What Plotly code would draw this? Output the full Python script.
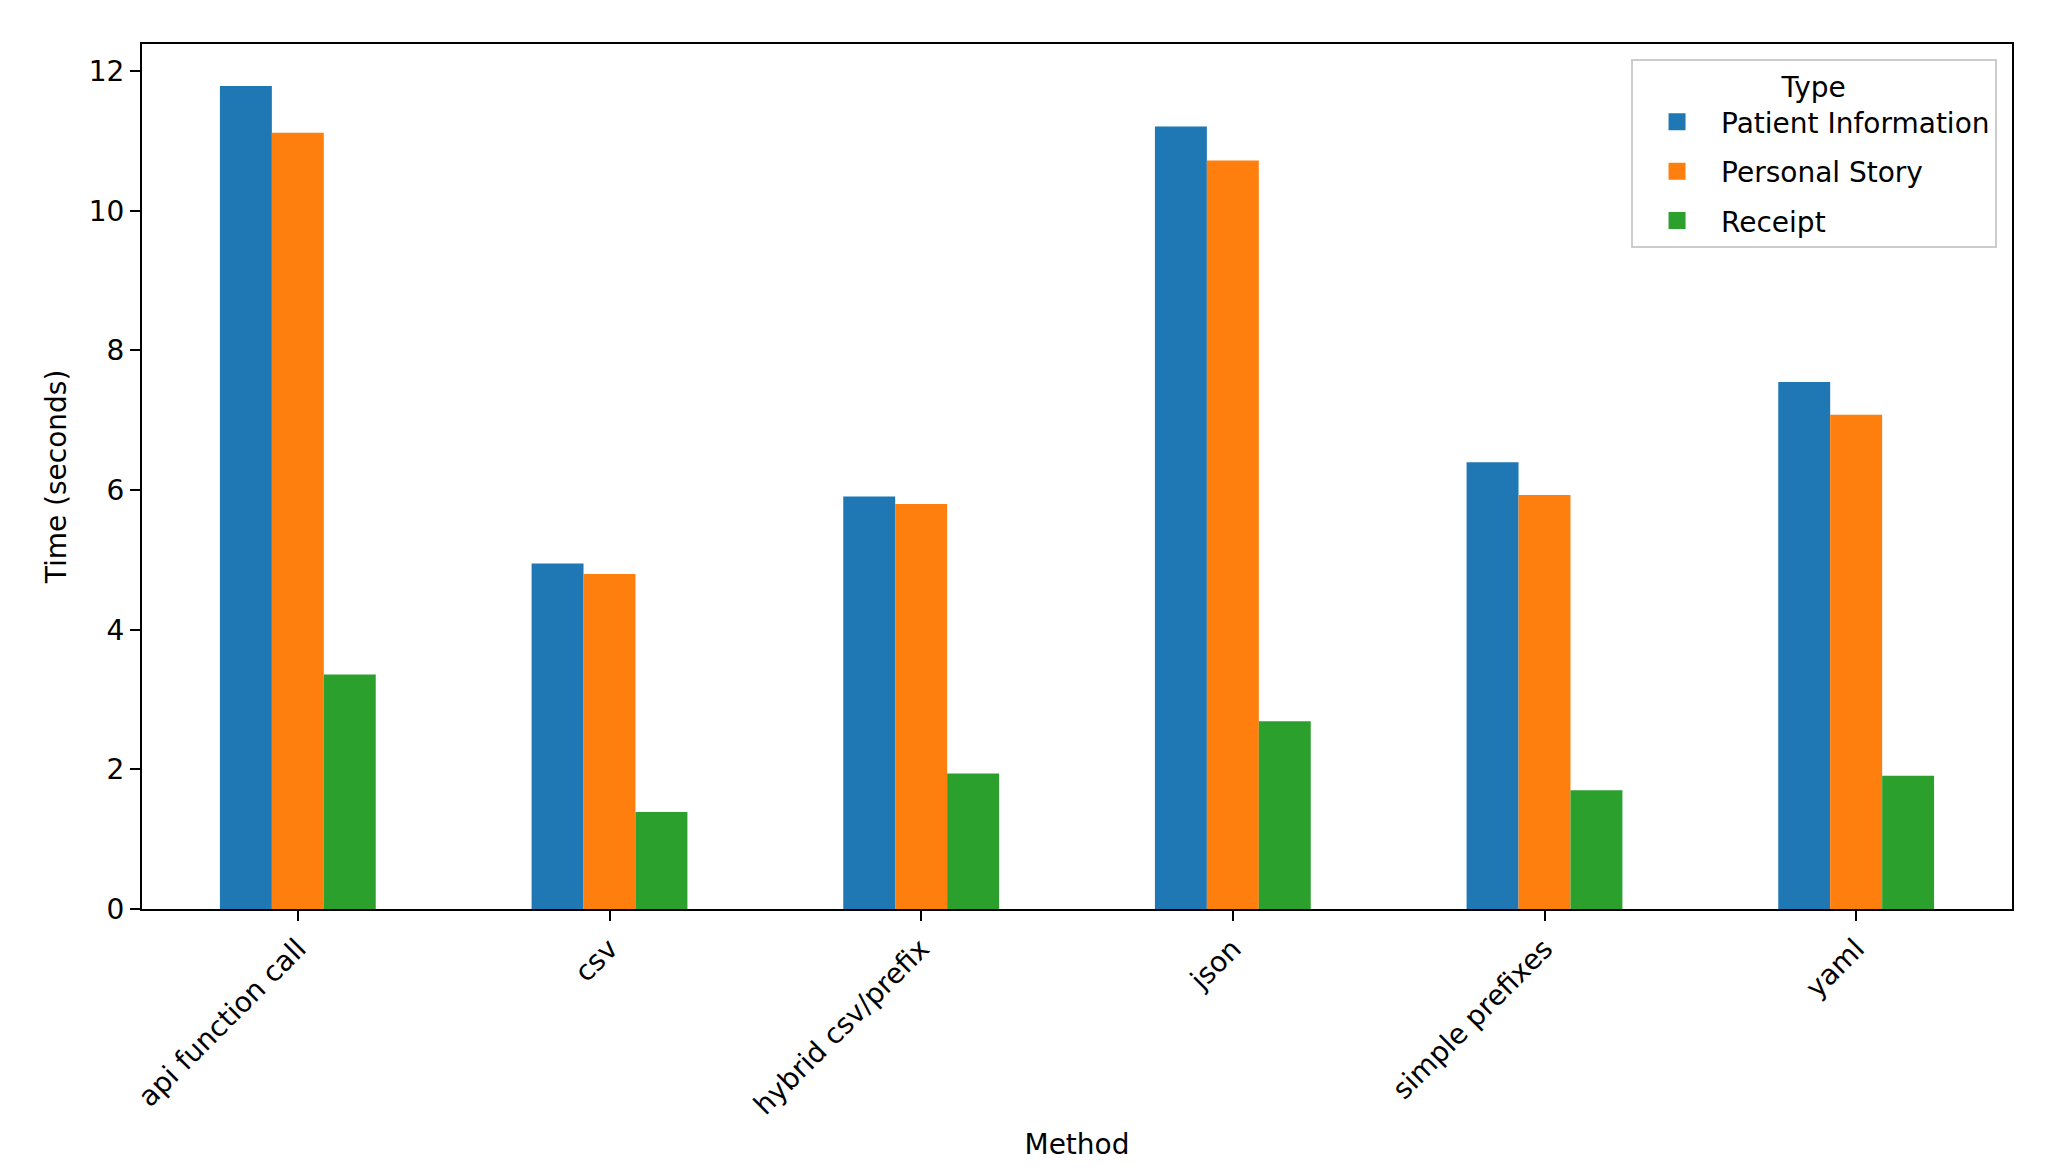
import plotly.graph_objects as go

methods = ['api function call', 'csv', 'hybrid csv/prefix', 'json', 'simple prefixes', 'yaml']
patient_information = [11.79, 4.95, 5.91, 11.21, 6.40, 7.55]
personal_story = [11.12, 4.80, 5.80, 10.72, 5.93, 7.08]
receipt = [3.36, 1.39, 1.94, 2.69, 1.70, 1.91]

series = [
    ('Patient Information', patient_information, '#1f77b4'),
    ('Personal Story', personal_story, '#ff7f0e'),
    ('Receipt', receipt, '#2ca02c'),
]

font = dict(family='DejaVu Sans', size=28, color='black')

fig = go.Figure()
for name, values, color in series:
    fig.add_trace(go.Bar(x=methods, y=values, name=name, marker_color=color,
                         marker_line_width=0, legendgroup=name, showlegend=False))
    # legend-only entry on a hidden axis, outlined so the patch is a bit bigger
    fig.add_trace(go.Bar(x=[None], y=[None], name=name, legendgroup=name,
                         xaxis='x2', marker=dict(color=color,
                                                 line=dict(color=color, width=5))))

axis_style = dict(showline=True, linecolor='black', linewidth=2.2, mirror=True,
                  ticks='outside', ticklen=10, tickwidth=2, tickcolor='black',
                  showgrid=False, zeroline=False, tickfont=font)

fig.update_xaxes(axis_style, range=[-0.5, 5.5], tickangle=-45,
                 title=dict(text='Method', font=font, standoff=14))
fig.update_yaxes(axis_style, range=[0, 12.39], tickvals=[0, 2, 4, 6, 8, 10, 12],
                 title=dict(text='Time (seconds)', font=font, standoff=14))

fig.update_layout(
    width=2057, height=1168,
    margin=dict(l=134, r=53, t=36, b=267),
    paper_bgcolor='white', plot_bgcolor='white',
    font=font,
    barmode='group', bargap=0.5, bargroupgap=0,
    xaxis2=dict(overlaying='x', visible=False),
    legend=dict(title=dict(text='Type', side='top center', font=font),
                x=0.992, xanchor='right', y=0.983, yanchor='top',
                bordercolor='#cccccc', borderwidth=2, bgcolor='white',
                font=font, itemwidth=78),
)

fig.write_html('out.html')
